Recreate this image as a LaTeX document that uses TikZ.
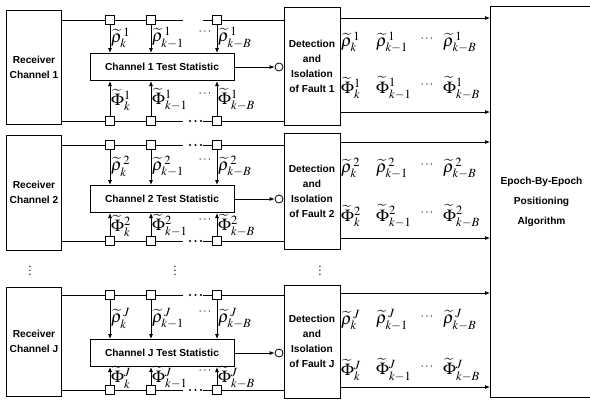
\documentclass[tikz,border=0pt]{standalone}
\usepackage{mathptmx}
\usepackage[no-math]{fontspec}
\setmainfont{Liberation Sans}
\usetikzlibrary{arrows.meta}
\newcommand{\myrho}[2]{$\widetilde{\rho}^{\,#1}_{#2}$}
\newcommand{\myphi}[2]{$\widetilde{\Phi}^{#1}_{#2}$}
\begin{document}
\begin{tikzpicture}[x=1bp,y=-1bp,
  box/.style={draw, line width=1bp, inner sep=0pt, align=center,
    font=\fontsize{10.2}{15}\selectfont\bfseries},
  sq/.style={draw, fill=white, line width=0.8bp, minimum size=9bp, inner sep=0pt},
  ln/.style={line width=0.8bp},
  arr/.style={line width=0.8bp, -{Latex[length=5bp,width=4bp]}},
  lab/.style={inner sep=0pt, anchor=west, font=\fontsize{17}{19}\selectfont},
  dts/.style={inner sep=0pt, font=\fontsize{12}{12}\selectfont},
  cir/.style={draw, circle, line width=0.8bp, minimum size=8bp, inner sep=0pt}]
\useasboundingbox (0,0) rectangle (590,401);
\fill[white] (0,0) rectangle (590,401);
\node[box, minimum width=102bp, minimum height=391bp, anchor=north west,
  font=\fontsize{10.2}{20}\selectfont\bfseries] (epoch) at (490,6)
  {Epoch-By-Epoch\\Positioning\\Algorithm};
\foreach \n/\yT/\yC/\yB/\rT/\rB/\dT/\dB/\oT/\oB/\lR/\lP/\td in
  {1/20/67/121/10/124/7/125/18/112/42/88/0,
   2/145/199/241/135/250/133/249/142/238/168/216/1,
   J/295/353/390/287/396/285/398/293/387/320/370/1}{
  \pgfmathsetmacro\rc{(\rT+\rB)/2}
  \pgfmathsetmacro\rh{\rB-\rT}
  \pgfmathsetmacro\dc{(\dT+\dB)/2}
  \pgfmathsetmacro\dh{\dB-\dT}
  \pgfmathsetmacro\yr{(\yT+\yC-13.5)/2+1}
  \pgfmathsetmacro\yp{(\yC+13.5+\yB)/2-1}
  \node[box, minimum width=54bp, minimum height=\rh bp] (rec\n) at (34,\rc) {Receiver\\Channel \n};
  \node[box, minimum width=56bp, minimum height=\dh bp] (det\n) at (312,\dc) {Detection\\and\\Isolation\\of Fault \n};
  \node[box, minimum width=144bp, minimum height=27bp] (ts\n) at (162,\yC) {Channel \n\ Test Statistic};
  \node[cir] (c\n) at (279,\yC) {};
  % squares
  \node[sq] (ta\n) at (110,\yT) {};
  \node[sq] (tb\n) at (151,\yT) {};
  \node[sq] (tc\n) at (217,\yT) {};
  \node[sq] (ba\n) at (110,\yB) {};
  \node[sq] (bb\n) at (151,\yB) {};
  \node[sq] (bc\n) at (217,\yB) {};
  % top line
  \draw[ln] (rec\n.east |- ta\n) -- (ta\n.west);
  \draw[ln] (ta\n.east) -- (tb\n.west);
  \draw[ln] (tb\n.east) -- ++(27,0);
  \draw[ln] (tc\n.west) -- ++(-9,0);
  \draw[ln] (tc\n.east) -- (det\n.west |- tc\n);
  \ifnum\td=1
    \foreach \xx in {190,195.5,201} \fill (\xx,\yT) circle (1.2bp);
  \fi
  % bottom line
  \draw[ln] (rec\n.east |- ba\n) -- (ba\n.west);
  \draw[ln] (ba\n.east) -- (bb\n.west);
  \draw[ln] (bb\n.east) -- ++(27,0);
  \draw[ln] (bc\n.west) -- ++(-9,0);
  \draw[ln] (bc\n.east) -- (det\n.west |- bc\n);
  \foreach \xx in {190,195.5,201} \fill (\xx,\yB) circle (1.2bp);
  % arrows to test statistic
  \foreach \s in {ta,tb,tc} \draw[arr] (\s\n.south) -- (\s\n.south |- ts\n.north);
  \foreach \s in {ba,bb,bc} \draw[arr] (\s\n.north) -- (\s\n.north |- ts\n.south);
  \draw[arr] (ts\n.east) -- (c\n.west);
  % left labels
  \node[lab] (lr1\n) at (111,\yr) {\myrho{\n}{k}};
  \node[lab] (lr2\n) at (152,\yr) {\myrho{\n}{k-1}};
  \node[lab] (lr3\n) at (218,\yr) {\myrho{\n}{k-B}};
  \node[dts] (lrd\n) at (205,\yr-6) {$\cdots$};
  \node[lab] (lp1\n) at (111,\yp) {\myphi{\n}{k}};
  \node[lab] (lp2\n) at (152,\yp) {\myphi{\n}{k-1}};
  \node[lab] (lp3\n) at (218,\yp) {\myphi{\n}{k-B}};
  \node[dts] (lpd\n) at (205,\yp-6) {$\cdots$};
  % outputs
  \draw[arr] (det\n.east |- 0,\oT) -- (epoch.west |- 0,\oT);
  \draw[arr] (det\n.east |- 0,\oB) -- (epoch.west |- 0,\oB);
  \node[lab] (rr1\n) at (341,\lR) {\myrho{\n}{k}};
  \node[lab] (rr2\n) at (376,\lR) {\myrho{\n}{k-1}};
  \node[lab] (rr3\n) at (443,\lR) {\myrho{\n}{k-B}};
  \node[dts] (rrd\n) at (427,\lR-3) {$\cdots$};
  \node[lab] (rp1\n) at (341,\lP) {\myphi{\n}{k}};
  \node[lab] (rp2\n) at (376,\lP) {\myphi{\n}{k-1}};
  \node[lab] (rp3\n) at (443,\lP) {\myphi{\n}{k-B}};
  \node[dts] (rpd\n) at (427,\lP-3) {$\cdots$};
}
\node[dts] (v1) at (30,268) {$\vdots$};
\node[dts] (v2) at (175,268) {$\vdots$};
\node[dts] (v3) at (320,268) {$\vdots$};
\end{tikzpicture}
\end{document}
